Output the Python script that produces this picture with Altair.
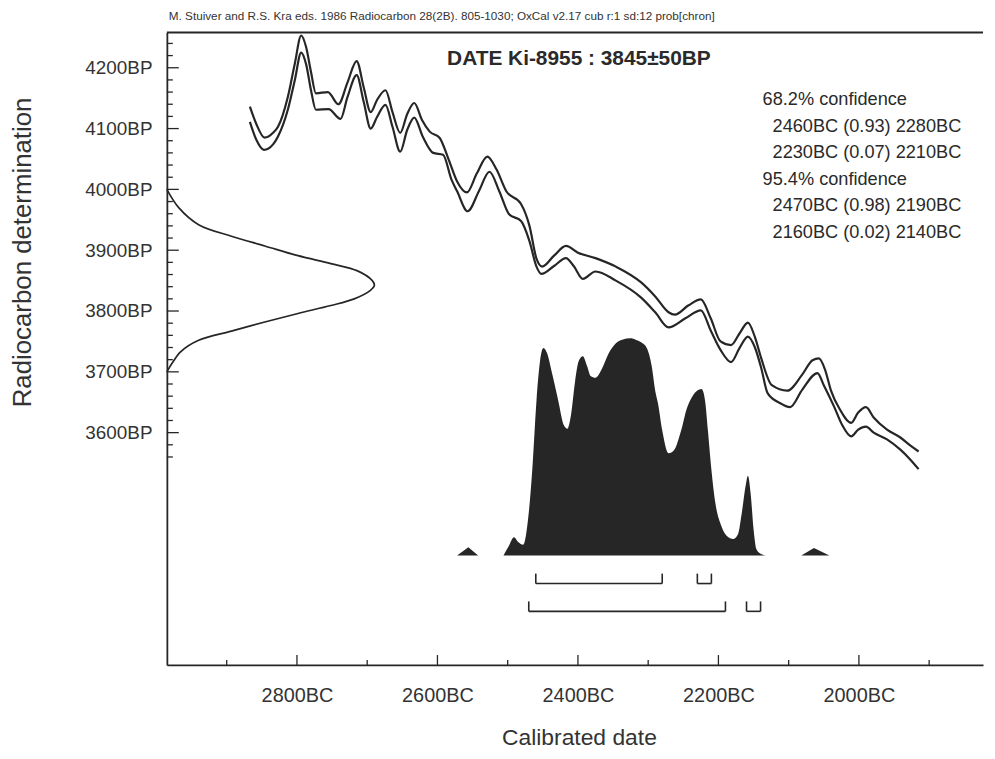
import altair as alt
import pandas as pd

# ---------------- data ----------------
# calibration curve envelope (upper / lower), calendar year BC vs radiocarbon BP
upper_bc = [2867, 2858, 2846, 2834, 2827, 2813, 2803, 2794, 2787, 2780, 2773, 2756, 2741, 2728, 2715,
            2705, 2695, 2686, 2674, 2664, 2653, 2643, 2633, 2622, 2611, 2597, 2584, 2572, 2558, 2544,
            2529, 2516, 2502, 2481, 2469, 2459, 2451, 2434, 2417, 2400, 2375, 2346, 2310, 2290, 2271,
            2262, 2243, 2225, 2211, 2197, 2182, 2170, 2158, 2148, 2139, 2124, 2102, 2081, 2066, 2057,
            2048, 2040, 2027, 2011, 2001, 1990, 1979, 1960, 1941, 1927, 1915]
upper_bp = [4136, 4108, 4085, 4093, 4103, 4152, 4207, 4253, 4234, 4193, 4158, 4160, 4140, 4176, 4211,
            4168, 4127, 4147, 4163, 4127, 4093, 4124, 4142, 4114, 4095, 4085, 4049, 4013, 3995, 4026,
            4054, 4033, 3997, 3976, 3940, 3886, 3873, 3891, 3907, 3896, 3887, 3873, 3847, 3824, 3798,
            3794, 3809, 3819, 3788, 3750, 3744, 3763, 3781, 3757, 3722, 3678, 3669, 3695, 3719, 3722,
            3703, 3670, 3638, 3616, 3633, 3642, 3625, 3605, 3592, 3579, 3569]
lower_bc = [2867, 2858, 2847, 2834, 2827, 2813, 2803, 2794, 2787, 2780, 2773, 2755, 2738, 2728, 2715,
            2705, 2695, 2686, 2674, 2664, 2653, 2643, 2633, 2621, 2606, 2592, 2580, 2572, 2557, 2541,
            2526, 2512, 2498, 2481, 2469, 2459, 2452, 2434, 2417, 2406, 2393, 2375, 2346, 2310, 2290,
            2271, 2247, 2225, 2211, 2197, 2182, 2170, 2158, 2148, 2139, 2130, 2113, 2098, 2081, 2059,
            2050, 2035, 2024, 2011, 2001, 1990, 1979, 1960, 1941, 1927, 1915]
lower_bp = [4111, 4082, 4065, 4074, 4087, 4131, 4180, 4225, 4206, 4163, 4131, 4132, 4116, 4152, 4188,
            4144, 4100, 4119, 4139, 4103, 4062, 4098, 4118, 4087, 4060, 4057, 4016, 3997, 3964, 3997,
            4029, 3997, 3959, 3948, 3915, 3873, 3861, 3874, 3887, 3874, 3853, 3865, 3850, 3822, 3798,
            3773, 3788, 3801, 3768, 3736, 3716, 3739, 3758, 3740, 3706, 3665, 3649, 3642, 3670, 3698,
            3678, 3642, 3613, 3594, 3605, 3610, 3600, 3589, 3572, 3556, 3540]

# radiocarbon measurement (normal curve on the y axis): BP vs relative density
meas_bp = [4000, 3970, 3942, 3923, 3907, 3891, 3878, 3866, 3850, 3842, 3834, 3820, 3809, 3796,
           3782, 3767, 3752, 3733, 3714, 3700]
meas_dens = [0.0, 0.057, 0.153, 0.311, 0.472, 0.632, 0.79, 0.919, 0.99, 1.0, 0.981, 0.903, 0.79,
             0.632, 0.472, 0.311, 0.153, 0.066, 0.025, 0.0]

# calibrated probability distribution (relative probability)
prob_bc = [2506, 2499, 2491, 2485, 2478, 2471, 2465, 2459, 2454, 2449, 2444, 2437, 2428, 2420, 2415,
           2410, 2404, 2399, 2393, 2387, 2382, 2375, 2366, 2356, 2346, 2337, 2325, 2318, 2310, 2302,
           2295, 2290, 2286, 2280, 2271, 2263, 2253, 2245, 2238, 2232, 2224, 2219, 2215, 2210, 2204,
           2196, 2188, 2179, 2172, 2167, 2161, 2158, 2154, 2150, 2146, 2140, 2132]
prob_p = [0.0, 0.04, 0.084, 0.062, 0.049, 0.167, 0.395, 0.713, 0.895, 0.956, 0.932, 0.841, 0.713, 0.6,
          0.584, 0.645, 0.804, 0.895, 0.918, 0.873, 0.827, 0.819, 0.859, 0.932, 0.977, 0.994, 1.0,
          0.994, 0.982, 0.956, 0.873, 0.759, 0.7, 0.577, 0.471, 0.486, 0.577, 0.677, 0.728, 0.754,
          0.767, 0.713, 0.577, 0.395, 0.235, 0.137, 0.09, 0.076, 0.099, 0.19, 0.326, 0.367, 0.281,
          0.122, 0.03, 0.008, 0.0]
blip1_bc = [2572, 2556, 2542]
blip1_p = [0.0, 0.038, 0.0]
blip2_bc = [2082, 2064, 2042]
blip2_p = [0.0, 0.034, 0.0]

# confidence ranges (from, to) in BC
range68 = [(2460, 2280), (2230, 2210)]
range95 = [(2470, 2190), (2160, 2140)]

x_major = [2800, 2600, 2400, 2200, 2000]
x_minor = [2900, 2700, 2500, 2300, 2100, 1900]
y_labels = [3600, 3700, 3800, 3900, 4000, 4100, 4200]
y_minor = [v for v in range(3560, 4241, 20) if v % 100 != 0]

header = "M. Stuiver and R.S. Kra eds. 1986 Radiocarbon 28(2B). 805-1030;  OxCal v2.17 cub r:1 sd:12 prob[chron]"
date_title = "DATE Ki-8955 : 3845\u00b150BP"
conf_lines = ["68.2% confidence", "2460BC (0.93) 2280BC", "2230BC (0.07) 2210BC",
              "95.4% confidence", "2470BC (0.98) 2190BC", "2160BC (0.02) 2140BC"]

# ---------------- layout ----------------
W, H = 822, 637
FONT = "Liberation Sans"
INK = "#262626"
XD = [1823.3, 2985.2]
YD = [3218, 4258]

xs = alt.Scale(domain=XD, reverse=True, nice=False, zero=False)
ys = alt.Scale(domain=YD, nice=False, zero=False)

x_axis = alt.Axis(values=x_major, labelExpr="datum.value + 'BC'", ticks=False, grid=False,
                  domain=True, domainColor=INK, domainWidth=1.8, labelFont=FONT, labelFontSize=20,
                  labelColor="#333", labelPadding=21, labelOverlap=False, labelFlush=False,
                  title="Calibrated date", titleFont=FONT, titleFontSize=23, titleFontWeight="normal",
                  titleColor="#333", titleX=415, titleY=73, titleBaseline="middle")
y_axis = alt.Axis(values=y_labels, labelExpr="datum.value + 'BP'", ticks=False, grid=False,
                  domain=True, domainColor=INK, domainWidth=1.8, labelFont=FONT, labelFontSize=19,
                  labelColor="#333", labelPadding=15, labelOverlap=False, labelFlush=False,
                  title="Radiocarbon determination", titleFont=FONT, titleFontSize=26,
                  titleFontWeight="normal", titleColor="#333", titleX=-145, titleY=221,
                  titleBaseline="middle")

# every layer carries the same axis spec so the shared axes merge cleanly
XA = alt.X("bc:Q", scale=xs, axis=x_axis)
YA = alt.Y("bp:Q", scale=ys, axis=y_axis)

upper = alt.Chart(pd.DataFrame({"bc": upper_bc, "bp": upper_bp})).mark_line(
    color=INK, strokeWidth=2.2, interpolate="monotone").encode(x=XA, y=YA)
lower = alt.Chart(pd.DataFrame({"bc": lower_bc, "bp": lower_bp})).mark_line(
    color=INK, strokeWidth=2.2, interpolate="monotone").encode(x=XA, y=YA)

# inward tick marks
def xticks(vals, length):
    return alt.Chart(pd.DataFrame({"bc": vals})).mark_rule(color=INK, strokeWidth=1.3).encode(
        x=XA, y=alt.value(H), y2=alt.value(H - length))

def yticks(vals, length):
    return alt.Chart(pd.DataFrame({"bp": vals})).mark_rule(color=INK, strokeWidth=1.3).encode(
        y=YA, x=alt.value(0), x2=alt.value(length))

top_line = alt.Chart(pd.DataFrame({"a": [0]})).mark_rule(color=INK, strokeWidth=1.8).encode(
    x=alt.value(0), x2=alt.value(W), y=alt.value(0))

# confidence brackets
def bracket(ranges, row_y):
    df = pd.DataFrame({"bc": [r[0] for r in ranges], "t": [r[1] for r in ranges]})
    ends = pd.DataFrame({"bc": [v for r in ranges for v in r]})
    h = alt.Chart(df).mark_rule(color=INK, strokeWidth=1.6).encode(
        x=XA, x2="t:Q", y=alt.value(row_y))
    v = alt.Chart(ends).mark_rule(color=INK, strokeWidth=1.6).encode(
        x=XA, y=alt.value(row_y), y2=alt.value(row_y - 10))
    return [h, v]

def label(text, x, y, size, align="left", weight="normal", font=FONT, color="#2a2a2a"):
    return alt.Chart(pd.DataFrame({"t": [text]})).mark_text(
        align=align, baseline="middle", fontSize=size, fontWeight=weight, font=font, color=color
    ).encode(x=alt.value(x), y=alt.value(y), text="t:N")

texts = [label(header, 2, -17, 11.8, font="Liberation Sans Narrow, Arial Narrow, Liberation Sans", color="#333"),
         label(date_title, 415, 27, 21, align="center", weight="bold")]
conf_x = [600, 610, 610, 600, 610, 610]
conf_y = [68, 95, 121, 149, 175, 202]
for t, cx, cy in zip(conf_lines, conf_x, conf_y):
    texts.append(label(t, cx, cy, 18.3))

# calibrated distribution: relative probability placed on the BP scale above its baseline
def dist_layer(bcs, ps, interp):
    return alt.Chart(pd.DataFrame({"bc": bcs, "p": ps})).transform_calculate(
        bp="3398 + datum.p * 357.1", base="3398").mark_area(
        color="#262626", interpolate=interp).encode(x=XA, y=YA, y2="base:Q")

dist = [dist_layer(prob_bc, prob_p, "monotone"), dist_layer(blip1_bc, blip1_p, "linear"),
        dist_layer(blip2_bc, blip2_p, "linear")]

# measurement normal curve: relative density measured from the y axis
gauss = alt.Chart(pd.DataFrame({"d": meas_dens, "bp": meas_bp})).transform_calculate(
    bc="2985.2 - datum.d * 295.4").mark_line(
    color=INK, strokeWidth=1.7, interpolate="catmull-rom").encode(
    x=XA, y=YA, order=alt.Order("bp:Q"))

chart = alt.layer(upper, lower, *dist, gauss, xticks(x_major, 10), xticks(x_minor, 5),
                  yticks(y_labels, 12), yticks(y_minor, 6), top_line,
                  *bracket(range68, 555), *bracket(range95, 583), *texts).properties(
    width=W, height=H, autosize=alt.AutoSizeParams(type="none"),
    padding={"left": 160, "top": 22, "right": 4, "bottom": 85}, background="white"
).configure_view(stroke=None)

chart.save("out.html", embed_options={"renderer": "svg", "actions": False})
